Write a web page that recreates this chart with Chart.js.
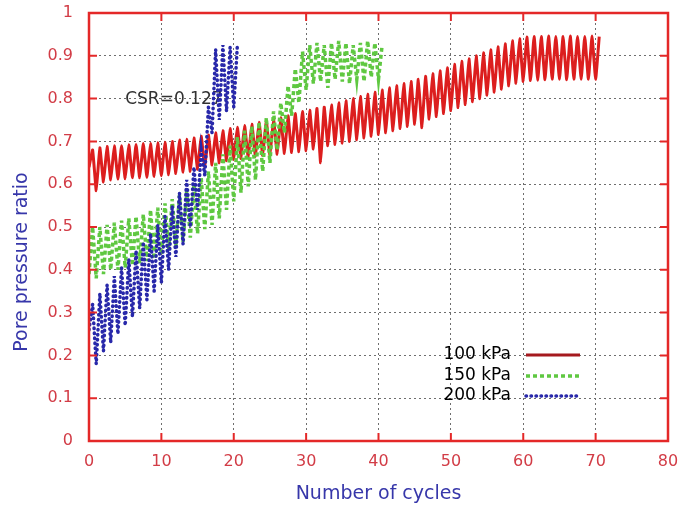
<!DOCTYPE html>
<html>
<head>
  <title>Pore pressure ratio</title>
  <script src="https://cdn.jsdelivr.net/npm/chart.js"></script>
  <style>
    body {
      margin: 0;
      background-color: white;
    }
  </style>
</head>
<body>
  <canvas id="ppChart" width="683" height="511"></canvas>

  <script>
    // one trough and one peak per loading cycle
    const seriesLabels = ["100 kPa", "150 kPa", "200 kPa"];

    const redPeaks = [
      0.680, 0.685, 0.688, 0.690, 0.690, 0.692, 0.693, 0.695, 0.695, 0.697,
      0.698, 0.700, 0.703, 0.705, 0.708, 0.712, 0.715, 0.720, 0.725, 0.730,
      0.733, 0.737, 0.740, 0.745, 0.748, 0.752, 0.755, 0.760, 0.765, 0.770,
      0.773, 0.777, 0.780, 0.785, 0.790, 0.795, 0.800, 0.805, 0.810, 0.815,
      0.820, 0.825, 0.830, 0.835, 0.840, 0.845, 0.852, 0.858, 0.865, 0.872,
      0.880, 0.887, 0.893, 0.900, 0.907, 0.914, 0.921, 0.928, 0.935, 0.940,
      0.944, 0.945, 0.945, 0.946, 0.945, 0.945, 0.946, 0.945, 0.945, 0.946, 0.945
    ];
    const redTroughs = [
      0.640, 0.585, 0.605, 0.610, 0.612, 0.613, 0.615, 0.615, 0.616, 0.618,
      0.620, 0.622, 0.625, 0.628, 0.630, 0.635, 0.640, 0.645, 0.650, 0.655,
      0.658, 0.660, 0.662, 0.665, 0.667, 0.668, 0.670, 0.672, 0.674, 0.676,
      0.678, 0.682, 0.650, 0.690, 0.693, 0.696, 0.700, 0.704, 0.708, 0.712,
      0.716, 0.720, 0.725, 0.730, 0.735, 0.740, 0.732, 0.752, 0.758, 0.765,
      0.772, 0.779, 0.786, 0.793, 0.800, 0.808, 0.815, 0.822, 0.830, 0.836,
      0.840, 0.842, 0.843, 0.844, 0.845, 0.845, 0.844, 0.845, 0.845, 0.845, 0.845
    ];

    const greenPeaks = [
      0.500, 0.500, 0.505, 0.510, 0.515, 0.520, 0.525, 0.530, 0.540, 0.545,
      0.555, 0.565, 0.575, 0.585, 0.600, 0.615, 0.630, 0.650, 0.670, 0.690,
      0.710, 0.725, 0.735, 0.745, 0.755, 0.770, 0.790, 0.830, 0.870, 0.910,
      0.925, 0.930, 0.925, 0.930, 0.935, 0.930, 0.925, 0.930, 0.935, 0.930, 0.925
    ];
    const greenTroughs = [
      0.390, 0.380, 0.390, 0.400, 0.400, 0.405, 0.410, 0.415, 0.420, 0.425,
      0.435, 0.445, 0.455, 0.465, 0.475, 0.485, 0.495, 0.505, 0.520, 0.540,
      0.560, 0.580, 0.595, 0.610, 0.630, 0.650, 0.680, 0.720, 0.760, 0.790,
      0.820, 0.835, 0.840, 0.825, 0.845, 0.840, 0.835, 0.845, 0.840, 0.850, 0.845
    ];

    const bluePeaks = [
      0.320, 0.345, 0.365, 0.385, 0.405, 0.425, 0.445, 0.465, 0.485, 0.505,
      0.525, 0.550, 0.580, 0.610, 0.640, 0.680, 0.780, 0.915, 0.925, 0.920, 0.925
    ];
    const blueTroughs = [
      0.260, 0.180, 0.210, 0.230, 0.250, 0.270, 0.290, 0.310, 0.330, 0.350,
      0.370, 0.400, 0.430, 0.460, 0.500, 0.540, 0.620, 0.720, 0.750, 0.770, 0.780
    ];

    const xTicks = [0, 10, 20, 30, 40, 50, 60, 70, 80];
    const yTicks = [0, 0.1, 0.2, 0.3, 0.4, 0.5, 0.6, 0.7, 0.8, 0.9, 1];

    const tickRed = "rgb(210, 60, 70)";
    const frameRed = "rgb(228, 40, 40)";
    const titleBlue = "rgb(55, 55, 170)";
    const fontFamily = "'DejaVu Sans', sans-serif";

    // trough at the start of a cycle, peak half a cycle later
    function cyclePoints(troughs, peaks) {
      const pts = [];
      for (let i = 0; i < troughs.length; i++) {
        pts.push({ x: i, y: troughs[i] });
        pts.push({ x: i + 0.5, y: peaks[i] });
      }
      return pts;
    }

    // keep the plot box where the figure has it
    function noScalePadding(scale) {
      scale.paddingTop = 0;
      scale.paddingBottom = 0;
      scale.paddingLeft = 0;
      scale.paddingRight = 0;
    }

    const extras = {
      id: "extras",
      beforeDatasetsDraw(chart) {
        const { ctx, scales } = chart;
        ctx.save();
        ctx.fillStyle = "rgb(50, 50, 50)";
        ctx.font = "17px " + fontFamily;
        ctx.textAlign = "left";
        ctx.textBaseline = "middle";
        ctx.fillText("CSR=0.127", scales.x.getPixelForValue(5), scales.y.getPixelForValue(0.797));
        ctx.restore();
      },
      afterDraw(chart) {
        const { ctx, chartArea: a, scales } = chart;
        ctx.save();

        // red frame with inward ticks on all four sides
        ctx.strokeStyle = frameRed;
        ctx.lineWidth = 2.5;
        ctx.strokeRect(a.left, a.top, a.right - a.left, a.bottom - a.top);
        ctx.lineWidth = 2;
        ctx.beginPath();
        xTicks.forEach(v => {
          const px = scales.x.getPixelForValue(v);
          ctx.moveTo(px, a.bottom); ctx.lineTo(px, a.bottom - 8);
          ctx.moveTo(px, a.top); ctx.lineTo(px, a.top + 8);
        });
        yTicks.forEach(v => {
          const py = scales.y.getPixelForValue(v);
          ctx.moveTo(a.left, py); ctx.lineTo(a.left + 8, py);
          ctx.moveTo(a.right, py); ctx.lineTo(a.right - 8, py);
        });
        ctx.stroke();

        // y axis title
        ctx.fillStyle = titleBlue;
        ctx.font = "19px " + fontFamily;
        ctx.textAlign = "center";
        ctx.textBaseline = "middle";
        ctx.translate(22, 262);
        ctx.rotate(-Math.PI / 2);
        ctx.fillText("Pore pressure ratio", 0, 0);
        ctx.setTransform(1, 0, 0, 1, 0, 0);

        // legend, text left of the line sample
        const rows = [355, 376, 396];
        chart.data.datasets.forEach((ds, i) => {
          const y = rows[i];
          ctx.fillStyle = "black";
          ctx.font = "17px " + fontFamily;
          ctx.textAlign = "right";
          ctx.fillText(ds.label, 511, y);
          ctx.beginPath();
          ctx.strokeStyle = ds.legendColor;
          ctx.lineWidth = ds.borderWidth;
          ctx.lineCap = ds.borderCapStyle;
          ctx.setLineDash(ds.borderDash);
          ctx.moveTo(526, y);
          ctx.lineTo(580, y);
          ctx.stroke();
        });
        ctx.restore();
      }
    };

    const ctx = document.getElementById("ppChart").getContext("2d");
    const chart = new Chart(ctx, {
      type: "scatter",
      data: {
        datasets: [
          {
            label: seriesLabels[0],
            data: cyclePoints(redTroughs, redPeaks),
            borderColor: "rgb(220, 30, 30)",
            legendColor: "rgb(165, 25, 30)",
            borderWidth: 3,
            borderDash: [],
            borderCapStyle: "butt",
            borderJoinStyle: "round",
            tension: 0.1,
            order: 3
          },
          {
            label: seriesLabels[1],
            data: cyclePoints(greenTroughs, greenPeaks),
            borderColor: "rgb(95, 200, 65)",
            legendColor: "rgb(95, 200, 65)",
            borderWidth: 3.5,
            borderDash: [4, 3],
            borderCapStyle: "butt",
            order: 2
          },
          {
            label: seriesLabels[2],
            data: cyclePoints(blueTroughs, bluePeaks),
            borderColor: "rgb(40, 40, 170)",
            legendColor: "rgb(40, 40, 170)",
            borderWidth: 3.5,
            borderDash: [0.5, 4.5],
            borderCapStyle: "round",
            order: 1
          }
        ]
      },
      options: {
        responsive: false,
        animation: false,
        showLine: true,
        elements: {
          point: { radius: 0 },
          line: { fill: false }
        },
        layout: {
          padding: { left: 0, right: 15, top: 13, bottom: 0 }
        },
        plugins: {
          legend: { display: false },
          tooltip: { enabled: false }
        },
        scales: {
          x: {
            type: "linear",
            min: 0,
            max: 80,
            afterFit(scale) { scale.height = 70; noScalePadding(scale); },
            afterBuildTicks(scale) { scale.ticks = xTicks.map(v => ({ value: v })); },
            ticks: {
              color: tickRed,
              font: { size: 16, family: fontFamily },
              padding: 11,
              maxRotation: 0
            },
            grid: {
              color: "rgb(110, 110, 110)",
              lineWidth: 1,
              drawTicks: false
            },
            border: { display: false, dash: [2, 3] },
            title: {
              display: true,
              text: "Number of cycles",
              color: titleBlue,
              font: { size: 19, family: fontFamily },
              padding: { top: 0, bottom: 6 }
            }
          },
          y: {
            type: "linear",
            min: 0,
            max: 1,
            afterFit(scale) { scale.width = 89; noScalePadding(scale); },
            afterBuildTicks(scale) { scale.ticks = yTicks.map(v => ({ value: v })); },
            ticks: {
              color: tickRed,
              font: { size: 16, family: fontFamily },
              padding: 16,
              callback: v => String(+v.toFixed(1))
            },
            grid: {
              color: "rgb(110, 110, 110)",
              lineWidth: 1,
              drawTicks: false
            },
            border: { display: false, dash: [2, 3] }
          }
        }
      },
      plugins: [extras]
    });
  </script>
</body>
</html>
